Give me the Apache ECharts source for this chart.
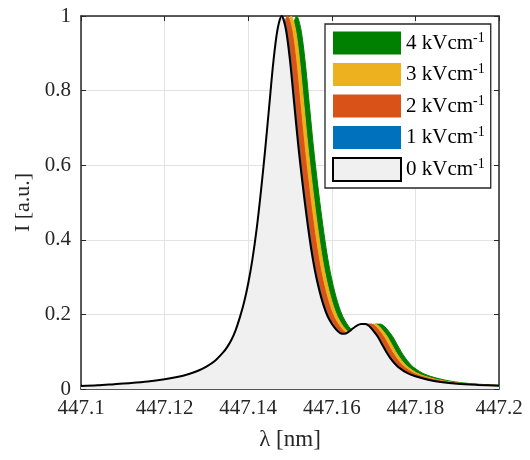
<!DOCTYPE html>
<html>
<head>
<meta charset="utf-8">
<script src="https://cdn.jsdelivr.net/npm/echarts@6/dist/echarts.min.js"></script>
<style>html,body{margin:0;padding:0;background:#fff}#c{width:530px;height:460px}</style>
</head>
<body>
<div id="c"></div>
<script>
// Legend / series names
const seriesNames = ['0 kVcm-1', '1 kVcm-1', '2 kVcm-1', '3 kVcm-1', '4 kVcm-1'];
const legendOrder = ['4 kVcm-1', '3 kVcm-1', '2 kVcm-1', '1 kVcm-1', '0 kVcm-1'];
const seriesColors = ['#f0f0f0', '#0072BD', '#D95319', '#EDB120', '#008000'];

// Tick labels
const xTickLabels = ['447.1', '447.12', '447.14', '447.16', '447.18', '447.2'];
const yTickLabels = ['0', '0.2', '0.4', '0.6', '0.8', '1'];

// Intensity profile (same shape for every field strength)
const intensity = [
  0.008, 0.010, 0.013, 0.016, 0.020, 0.026, 0.032, 0.041, 0.049, 0.060,
  0.075, 0.098, 0.113, 0.132, 0.158, 0.192, 0.232, 0.283, 0.347, 0.427,
  0.525, 0.635, 0.755, 0.875, 0.963, 1.000, 0.965, 0.880, 0.765, 0.650,
  0.550, 0.460, 0.380, 0.315, 0.265, 0.225, 0.195, 0.175, 0.160, 0.150,
  0.148, 0.153, 0.162, 0.170, 0.174, 0.174, 0.168, 0.155, 0.140, 0.120,
  0.100, 0.083, 0.069, 0.058, 0.043, 0.034, 0.025, 0.019, 0.014, 0.011,
  0.009
];

// Wavelengths [nm] for each field strength
const lambda0 = [
  447.100, 447.104, 447.108, 447.112, 447.116, 447.120, 447.123, 447.126, 447.128, 447.130,
  447.132, 447.134, 447.135, 447.136, 447.137, 447.138, 447.139, 447.140, 447.141, 447.142,
  447.143, 447.144, 447.145, 447.146, 447.147, 447.148, 447.149, 447.150, 447.151, 447.152,
  447.153, 447.154, 447.155, 447.156, 447.157, 447.158, 447.159, 447.160, 447.161, 447.162,
  447.163, 447.164, 447.165, 447.166, 447.167, 447.168, 447.169, 447.170, 447.171, 447.172,
  447.173, 447.174, 447.175, 447.176, 447.178, 447.180, 447.183, 447.186, 447.190, 447.195,
  447.200
];
const lambda1 = [
  447.1002, 447.1042, 447.1082, 447.1122, 447.1162, 447.1202, 447.1232, 447.1262, 447.1282, 447.1302,
  447.1322, 447.1342, 447.1352, 447.1362, 447.1372, 447.1382, 447.1392, 447.1402, 447.1412, 447.1422,
  447.1432, 447.1442, 447.1452, 447.1462, 447.1472, 447.1482, 447.1492, 447.1502, 447.1512, 447.1522,
  447.1532, 447.1542, 447.1552, 447.1562, 447.1572, 447.1582, 447.1592, 447.1602, 447.1612, 447.1622,
  447.1632, 447.1642, 447.1652, 447.1662, 447.1672, 447.1682, 447.1692, 447.1702, 447.1712, 447.1722,
  447.1732, 447.1742, 447.1752, 447.1762, 447.1782, 447.1802, 447.1832, 447.1862, 447.1902, 447.1952,
  447.2002
];
const lambda2 = [
  447.1014, 447.1054, 447.1094, 447.1134, 447.1174, 447.1214, 447.1244, 447.1274, 447.1294, 447.1314,
  447.1334, 447.1354, 447.1364, 447.1374, 447.1384, 447.1394, 447.1404, 447.1414, 447.1424, 447.1434,
  447.1444, 447.1454, 447.1464, 447.1474, 447.1484, 447.1494, 447.1504, 447.1514, 447.1524, 447.1534,
  447.1544, 447.1554, 447.1564, 447.1574, 447.1584, 447.1594, 447.1604, 447.1614, 447.1624, 447.1634,
  447.1644, 447.1654, 447.1664, 447.1674, 447.1684, 447.1694, 447.1704, 447.1714, 447.1724, 447.1734,
  447.1744, 447.1754, 447.1764, 447.1774, 447.1794, 447.1814, 447.1844, 447.1874, 447.1914, 447.1964,
  447.2014
];
const lambda3 = [
  447.1023, 447.1063, 447.1103, 447.1143, 447.1183, 447.1223, 447.1253, 447.1283, 447.1303, 447.1323,
  447.1343, 447.1363, 447.1373, 447.1383, 447.1393, 447.1403, 447.1413, 447.1423, 447.1433, 447.1443,
  447.1453, 447.1463, 447.1473, 447.1483, 447.1493, 447.1503, 447.1513, 447.1523, 447.1533, 447.1543,
  447.1553, 447.1563, 447.1573, 447.1583, 447.1593, 447.1603, 447.1613, 447.1623, 447.1633, 447.1643,
  447.1653, 447.1663, 447.1673, 447.1683, 447.1693, 447.1703, 447.1713, 447.1723, 447.1733, 447.1743,
  447.1753, 447.1763, 447.1773, 447.1783, 447.1803, 447.1823, 447.1853, 447.1883, 447.1923, 447.1973,
  447.2023
];
const lambda4 = [
  447.1036, 447.1076, 447.1116, 447.1156, 447.1196, 447.1236, 447.1266, 447.1296, 447.1316, 447.1336,
  447.1356, 447.1376, 447.1386, 447.1396, 447.1406, 447.1416, 447.1426, 447.1436, 447.1446, 447.1456,
  447.1466, 447.1476, 447.1486, 447.1496, 447.1506, 447.1516, 447.1526, 447.1536, 447.1546, 447.1556,
  447.1566, 447.1576, 447.1586, 447.1596, 447.1606, 447.1616, 447.1626, 447.1636, 447.1646, 447.1656,
  447.1666, 447.1676, 447.1686, 447.1696, 447.1706, 447.1716, 447.1726, 447.1736, 447.1746, 447.1756,
  447.1766, 447.1776, 447.1786, 447.1796, 447.1816, 447.1836, 447.1866, 447.1896, 447.1936, 447.1986,
  447.2036
];
const lambdas = [lambda0, lambda1, lambda2, lambda3, lambda4];

const FONT = 'Liberation Serif';
const TXT = '#262626';
const AX = '#262626';

function pairs(xs, ys) { return xs.map((x, i) => [x, ys[i]]); }

// draw from 4 (bottom) to 0 (top)
const series = [];
for (let k = 4; k >= 0; k--) {
  const isBase = k === 0;
  series.push({
    name: seriesNames[k],
    type: 'line',
    data: pairs(lambdas[k], intensity),
    smooth: 0.3,
    showSymbol: false,
    symbol: 'none',
    z: 2 + (4 - k),
    lineStyle: isBase ? { color: '#000', width: 2 } : { color: seriesColors[k], width: 1 },
    itemStyle: { color: seriesColors[k] },
    areaStyle: { color: seriesColors[k], opacity: 1 },
    emphasis: { disabled: true },
    animation: false
  });
}

const legendData = legendOrder.map(n => {
  const k = seriesNames.indexOf(n);
  return {
    name: n,
    icon: 'rect',
    itemStyle: k === 0
      ? { color: '#f0f0f0', borderColor: '#000', borderWidth: 2 }
      : { color: seriesColors[k], borderWidth: 0 }
  };
});

const chart = echarts.init(document.getElementById('c'), null, { renderer: 'canvas' });
chart.setOption({
  animation: false,
  backgroundColor: '#fff',
  grid: { left: 81, top: 16, right: 31, bottom: 71, containLabel: false },
  legend: {
    data: legendData,
    orient: 'vertical',
    left: 325,
    top: 24,
    padding: [7, 6, 6, 7],
    itemWidth: 68,
    itemHeight: 23,
    itemGap: 8,
    itemTextGap: 4,
    backgroundColor: '#fff',
    borderColor: '#262626',
    borderWidth: 1.3,
    selectedMode: false,
    formatter: n => '{a|' + n.replace('-1', '') + '}{s|-1}',
    textStyle: {
      rich: {
        a: { fontFamily: FONT, fontSize: 21, color: '#000', lineHeight: 24 },
        s: { fontFamily: FONT, fontSize: 14, color: '#000', verticalAlign: 'top', lineHeight: 14 }
      }
    }
  },
  xAxis: [{
    type: 'value',
    min: 447.1, max: 447.2, interval: 0.02,
    name: 'λ [nm]', nameLocation: 'middle', nameGap: 39,
    nameTextStyle: { fontFamily: FONT, fontSize: 23, color: TXT },
    axisLine: { show: true, onZero: false, lineStyle: { color: AX, width: 1.5 } },
    axisTick: { show: true, inside: true, length: 5, lineStyle: { color: AX, width: 1 } },
    axisLabel: {
      fontFamily: FONT, fontSize: 21, color: TXT, margin: 9,
      formatter: v => xTickLabels[Math.round((v - 447.1) / 0.02)]
    },
    splitLine: { show: true, lineStyle: { color: '#e3e3e3', width: 1 } }
  }, {
    type: 'value', position: 'top',
    min: 447.1, max: 447.2, interval: 0.02,
    axisLine: { show: true, onZero: false, lineStyle: { color: AX, width: 1.5 } },
    axisTick: { show: true, inside: true, length: 5, lineStyle: { color: AX, width: 1 } },
    axisLabel: { show: false }, splitLine: { show: false }
  }],
  yAxis: [{
    type: 'value',
    min: 0, max: 1, interval: 0.2,
    name: 'I [a.u.]', nameLocation: 'middle', nameGap: 47,
    nameTextStyle: { fontFamily: FONT, fontSize: 22, color: TXT },
    axisLine: { show: true, onZero: false, lineStyle: { color: AX, width: 1.5 } },
    axisTick: { show: true, inside: true, length: 5, lineStyle: { color: AX, width: 1 } },
    axisLabel: {
      fontFamily: FONT, fontSize: 21, color: TXT, margin: 10,
      formatter: v => yTickLabels[Math.round(v / 0.2)]
    },
    splitLine: { show: true, lineStyle: { color: '#e3e3e3', width: 1 } }
  }, {
    type: 'value', position: 'right',
    min: 0, max: 1, interval: 0.2,
    axisLine: { show: true, onZero: false, lineStyle: { color: AX, width: 1.5 } },
    axisTick: { show: true, inside: true, length: 5, lineStyle: { color: AX, width: 1 } },
    axisLabel: { show: false }, splitLine: { show: false }
  }],
  series: series
});
</script>
</body>
</html>
